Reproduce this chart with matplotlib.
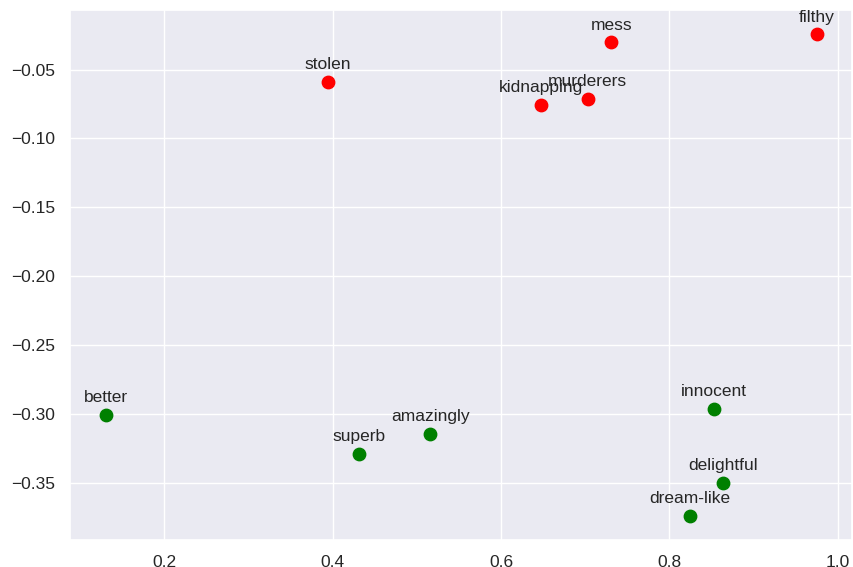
import matplotlib
matplotlib.use("Agg")
import matplotlib.pyplot as plt
import seaborn as sns

sns.set_theme(style="darkgrid")
plt.rcParams['font.family'] = ['Liberation Sans', 'DejaVu Sans']

neg_words = ["filthy", "mess", "stolen", "kidnapping", "murderers"]
neg_x = [0.975, 0.731, 0.394, 0.647, 0.703]
neg_y = [-0.0244, -0.0303, -0.0588, -0.0756, -0.0712]

pos_words = ["better", "superb", "amazingly", "innocent", "delightful", "dream-like"]
pos_x = [0.130, 0.431, 0.516, 0.853, 0.864, 0.824]
pos_y = [-0.3007, -0.3292, -0.3146, -0.2963, -0.3500, -0.3741]

fig, ax = plt.subplots(figsize=(8.54, 5.67), dpi=100)
fig.subplots_adjust(left=0.082, right=0.998, top=0.982, bottom=0.048)

ax.scatter(neg_x, neg_y, color="red", s=80, zorder=3)
ax.scatter(pos_x, pos_y, color="green", s=80, zorder=3)

for w, x, y in zip(neg_words + pos_words, neg_x + pos_x, neg_y + pos_y):
    ax.annotate(w, (x, y), xytext=(0, 7), textcoords="offset points",
                ha="center", va="bottom", fontsize=12.5, color="#262626")

ax.tick_params(labelsize=12.5, pad=5)
fig.savefig("out.png", dpi=100)
